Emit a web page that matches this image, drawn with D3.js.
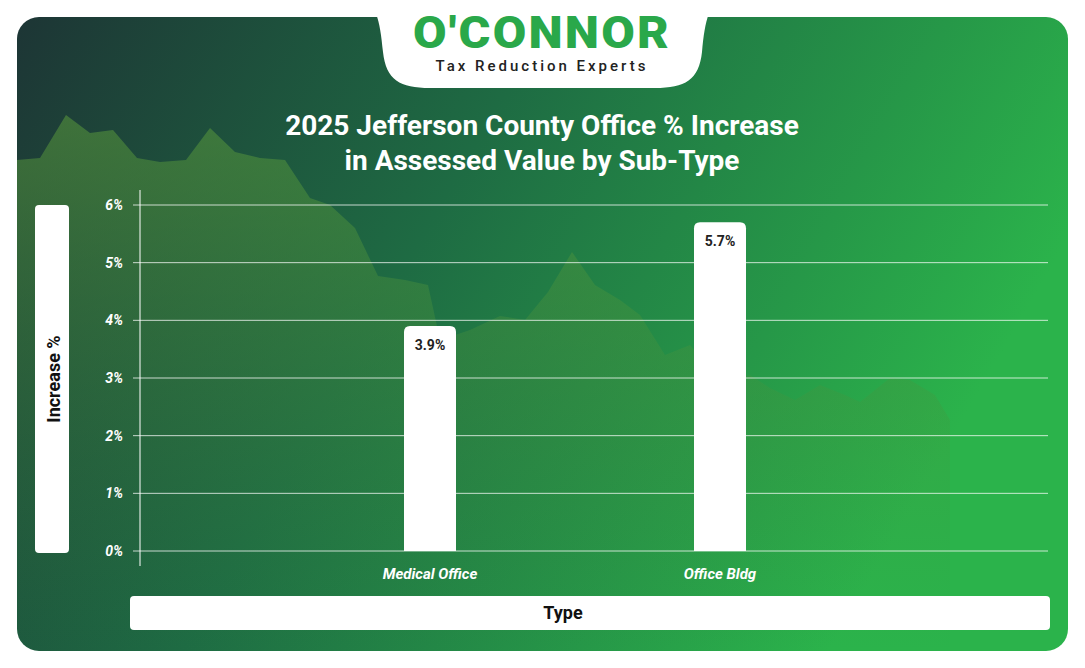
<!DOCTYPE html>
<html><head><meta charset="utf-8">
<script src="https://cdn.jsdelivr.net/npm/d3@7"></script>
<style>body{margin:0;background:#fff}svg{display:block}text{font-family:Roboto,Inter,sans-serif}</style>
</head><body><svg id="c" width="1085" height="668"></svg>
<script>
const categories=["Medical Office","Office Bldg"];
const values=[3.9,5.7];
const valueLabels=["3.9%","5.7%"];
const yTicks=[0,1,2,3,4,5,6];
const title=["2025 Jefferson County Office % Increase","in Assessed Value by Sub-Type"];
const mountainX=[17,40,66,90,113,137,160,186,210,235,260,285,310,330,355,378,405,428,440,470,500,525,548,572,595,620,640,665,690,720,750,770,795,820,845,860,890,910,935,950];
const mountainY=[160,158,115,133,130,158,162,160,128,152,158,160,198,205,228,276,280,285,340,330,316,320,292,252,285,300,315,355,345,380,375,388,400,385,395,402,378,380,395,420];

const svg=d3.select("#c");
const defs=svg.append("defs");
const g=defs.append("linearGradient").attr("id","bg").attr("x1","0").attr("y1","0").attr("x2","1").attr("y2","0.35");
g.append("stop").attr("offset","0").attr("stop-color","#1d3535");
g.append("stop").attr("offset","0.45").attr("stop-color","#1e6b43");
g.append("stop").attr("offset","1").attr("stop-color","#2bb34b");
const mg=defs.append("linearGradient").attr("id","mg").attr("x1","0").attr("y1","0").attr("x2","0").attr("y2","1");
mg.append("stop").attr("offset","0").attr("stop-color","#5a9a3c").attr("stop-opacity",0.55);
mg.append("stop").attr("offset","1").attr("stop-color","#3d8a3a").attr("stop-opacity",0);
const clip=defs.append("clipPath").attr("id","cl");
clip.append("rect").attr("x",17).attr("y",17).attr("width",1051).attr("height",634).attr("rx",22);

svg.append("rect").attr("x",17).attr("y",17).attr("width",1051).attr("height",634).attr("rx",22).attr("fill","url(#bg)");
const area=d3.area().x((d,i)=>mountainX[i]).y0(651).y1(d=>d).curve(d3.curveLinear);
svg.append("path").attr("clip-path","url(#cl)").attr("d",area(mountainY)).attr("fill","url(#mg)");

svg.append("path").attr("d","M358,0 C376,0 380,20 383,52 C386,80 400,88 430,88 L655,88 C685,88 699,80 702,52 C705,20 709,0 727,0 Z").attr("fill","#fff");
svg.append("text").attr("x",542).attr("y",48).attr("text-anchor","middle").attr("font-size",44).attr("font-weight",900).attr("fill","#2aa84a").attr("letter-spacing",2).attr("textLength",258).attr("lengthAdjust","spacingAndGlyphs").text("O'CONNOR");
svg.append("text").attr("x",542).attr("y",71).attr("text-anchor","middle").attr("font-size",15).attr("font-weight",500).attr("fill","#222").attr("letter-spacing",3).text("Tax Reduction Experts");

svg.selectAll("text.t").data(title).join("text").attr("x",542).attr("y",(d,i)=>135+i*35).attr("text-anchor","middle").attr("font-size",28).attr("font-weight",700).attr("fill","#fff").text(d=>d);

const y=d3.scaleLinear().domain([0,6]).range([551,205]);
const x=d3.scalePoint().domain(categories).range([140,1010]).padding(1);
const bw=52;

svg.append("g").selectAll("line").data(yTicks).join("line").attr("x1",133).attr("x2",1048).attr("y1",d=>y(d)).attr("y2",d=>y(d)).attr("stroke","#fff").attr("stroke-opacity",0.75).attr("stroke-width",1);
svg.append("line").attr("x1",140).attr("x2",140).attr("y1",190).attr("y2",566).attr("stroke","#fff").attr("stroke-width",1);
svg.append("g").selectAll("text").data(yTicks).join("text").attr("x",123).attr("y",d=>y(d)+5).attr("text-anchor","end").attr("font-size",14).attr("font-weight",700).attr("font-style","italic").attr("fill","#fff").text(d=>d+"%");

svg.append("g").selectAll("path").data(values).join("path").attr("fill","#fff").attr("d",(d,i)=>{
 const x0=x(categories[i])-bw/2,w=bw,t=y(d),b=y(0),r=6;
 return `M${x0},${b}L${x0},${t+r}Q${x0},${t} ${x0+r},${t}L${x0+w-r},${t}Q${x0+w},${t} ${x0+w},${t+r}L${x0+w},${b}Z`;});
svg.append("g").selectAll("text").data(values).join("text").attr("x",(d,i)=>x(categories[i])).attr("y",d=>y(d)+24).attr("text-anchor","middle").attr("font-size",14).attr("font-weight",700).attr("fill","#222").text((d,i)=>valueLabels[i]);
svg.append("g").selectAll("text").data(categories).join("text").attr("x",d=>x(d)).attr("y",579).attr("text-anchor","middle").attr("font-size",15).attr("font-weight",700).attr("font-style","italic").attr("fill","#fff").text(d=>d);

svg.append("rect").attr("x",35).attr("y",205).attr("width",34).attr("height",348).attr("rx",4).attr("fill","#fff");
svg.append("text").attr("transform","translate(60,379) rotate(-90)").attr("text-anchor","middle").attr("font-size",18).attr("font-weight",700).attr("fill","#111").text("Increase %");
svg.append("rect").attr("x",130).attr("y",596).attr("width",920).attr("height",34).attr("rx",4).attr("fill","#fff");
svg.append("text").attr("x",563).attr("y",619).attr("text-anchor","middle").attr("font-size",18).attr("font-weight",700).attr("fill","#111").text("Type");
</script></body></html>
